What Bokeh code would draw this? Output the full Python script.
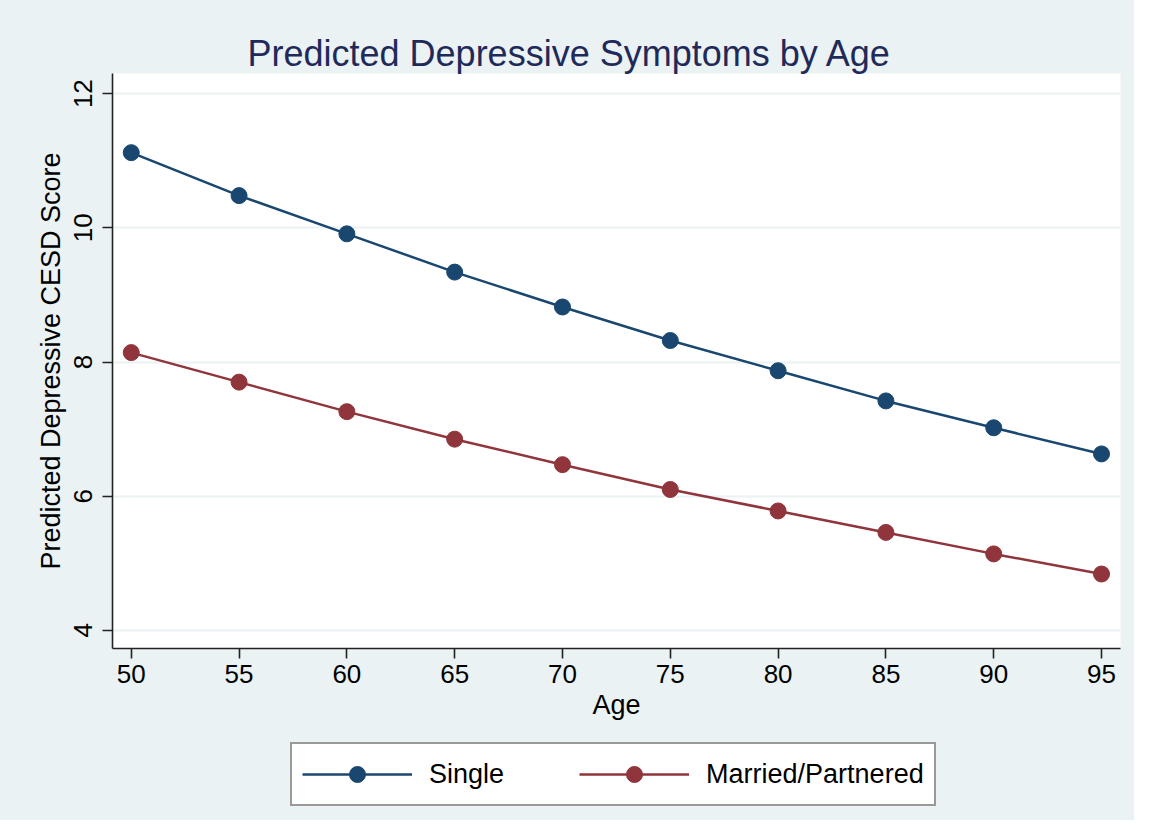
from bokeh.plotting import figure
from bokeh.layouts import column
from bokeh.models import Legend, LegendItem, Range1d, FixedTicker
from bokeh.embed import file_html
from bokeh.resources import INLINE

ages = [50, 55, 60, 65, 70, 75, 80, 85, 90, 95]
single = [11.12, 10.48, 9.91, 9.34, 8.82, 8.32, 7.87, 7.42, 7.02, 6.63]
married = [8.14, 7.70, 7.26, 6.85, 6.47, 6.10, 5.78, 5.46, 5.14, 4.84]
y_ticks = [4, 6, 8, 10, 12]
series_names = ["Single", "Married/Partnered"]

BG = "#EAF2F3"
NAVY = "#1a476f"
MAROON = "#90353b"
FONT = "Liberation Sans"

W = 1134
H1 = 735
H2 = 85

p = figure(width=W, height=H1, output_backend="svg", toolbar_location=None,
           x_range=Range1d(49.13, 95.88), y_range=Range1d(3.73, 12.30),
           min_border_left=112, min_border_right=14, min_border_top=73, min_border_bottom=H1 - 648)
p.background_fill_color = "white"
p.border_fill_color = BG
p.outline_line_color = None

p.title.text = "Predicted Depressive Symptoms by Age"
p.title.text_font = FONT
p.title.text_font_size = "36px"
p.title.text_font_style = "normal"
p.title.text_color = "#1f2a5a"
p.title.align = "left"
p.title.offset = 135
p.title.standoff = 0

p.xgrid.visible = False
p.ygrid.ticker = FixedTicker(ticks=y_ticks)
p.ygrid.grid_line_color = BG
p.ygrid.grid_line_width = 2

for ax in (p.xaxis[0], p.yaxis[0]):
    ax.axis_line_color = "#222222"
    ax.axis_line_width = 1.6
    ax.major_tick_line_color = "#222222"
    ax.major_tick_line_width = 1.6
    ax.major_tick_out = 10
    ax.major_tick_in = 0
    ax.minor_tick_line_color = None
    ax.major_label_text_font = FONT
    ax.major_label_text_font_size = "26px"
    ax.major_label_text_color = "black"
    ax.axis_label_text_font = FONT
    ax.axis_label_text_font_size = "27px"
    ax.axis_label_text_font_style = "normal"
    ax.axis_label_text_color = "black"

p.xaxis.ticker = FixedTicker(ticks=ages)
p.xaxis.axis_label = "Age"
p.xaxis.major_label_standoff = 6
p.xaxis.axis_label_standoff = 4

p.yaxis.ticker = FixedTicker(ticks=y_ticks)
p.yaxis.axis_label = "Predicted Depressive CESD Score"
p.yaxis.major_label_orientation = "vertical"
p.yaxis.major_label_standoff = 10
p.yaxis.axis_label_standoff = 6

p.line(ages, single, line_color=NAVY, line_width=2.5)
p.scatter(ages, single, size=16, fill_color=NAVY, line_color=NAVY)
p.line(ages, married, line_color=MAROON, line_width=2.5)
p.scatter(ages, married, size=16, fill_color=MAROON, line_color=MAROON)

# legend strip below the main chart
p2 = figure(width=W, height=H2, output_backend="svg", toolbar_location=None,
            x_axis_type=None, y_axis_type=None, min_border=0,
            min_border_left=0, min_border_right=0, min_border_top=0, min_border_bottom=0)
p2.title.text = ""
p2.title.visible = False
p2.background_fill_color = BG
p2.border_fill_color = BG
p2.outline_line_color = None
p2.xgrid.visible = False
p2.ygrid.visible = False
k1 = p2.line(ages, single, line_color=NAVY, line_width=2.5, visible=False)
k2 = p2.scatter(ages, single, size=16, fill_color=NAVY, line_color=NAVY, visible=False)
k3 = p2.line(ages, married, line_color=MAROON, line_width=2.5, visible=False)
k4 = p2.scatter(ages, married, size=16, fill_color=MAROON, line_color=MAROON, visible=False)

legend = Legend(items=[LegendItem(label=series_names[0], renderers=[k1, k2]),
                       LegendItem(label=series_names[1], renderers=[k3, k4])],
                orientation="horizontal", location=(178, 14))
legend.label_text_font = FONT
legend.label_text_font_size = "27px"
legend.label_text_color = "black"
legend.glyph_width = 110
legend.glyph_height = 40
legend.label_standoff = 17
legend.spacing = 75
legend.padding = 10
legend.margin = 0
legend.border_line_color = "#333333"
legend.border_line_width = 2
legend.background_fill_color = "white"
legend.background_fill_alpha = 1
legend.inactive_fill_alpha = 0
p2.add_layout(legend, "center")

layout = column(p, p2, spacing=0, styles={"background-color": BG})
open("out.html", "w").write(file_html(layout, INLINE))
